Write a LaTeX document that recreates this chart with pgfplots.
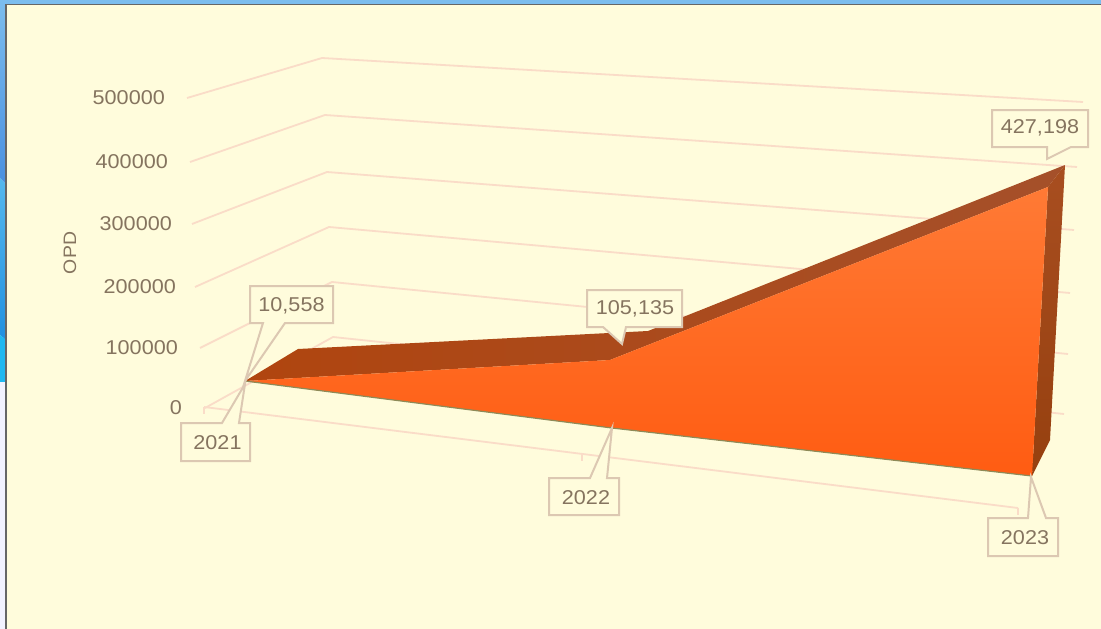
\documentclass[border=0pt]{standalone}
\usepackage{pgfplots}
\pgfplotsset{compat=1.18}
\usepackage{fontspec}
\setmainfont[FakeStretch=1.08]{Liberation Sans}
\definecolor{bgc}{HTML}{FFFCDC}
\definecolor{gridc}{HTML}{FADCC8}
\definecolor{boxc}{HTML}{DCC8B2}
\definecolor{txt}{HTML}{85745F}
\definecolor{band}{HTML}{B0450F}
\definecolor{banda}{HTML}{A5502A}
\definecolor{stripa}{HTML}{7CBDEE}
\definecolor{stripb}{HTML}{4A90E0}
\definecolor{stripc}{HTML}{55B8EE}
\definecolor{stripd}{HTML}{2090E0}
\definecolor{stripe}{HTML}{20B8F0}
\definecolor{sidea}{HTML}{A84E20}
\definecolor{sideb}{HTML}{96400F}
\definecolor{facea}{HTML}{FF7A35}
\definecolor{faceb}{HTML}{FF5C12}
\begin{document}
\begin{tikzpicture}[every node/.style={font=\fontsize{20}{24}\selectfont,text=txt,inner sep=0pt}]
\begin{axis}[
  scale only axis, width=1101pt, height=629pt,
  xmin=0, xmax=1101, ymin=0, ymax=629, y dir=reverse,
  axis lines=none, clip=true,
  gl/.style={draw=gridc,line width=1.8pt,line join=round,no markers},
  callout/.style={draw=boxc,fill=bgc,line width=2pt,line join=miter,no markers}
]
% window and page background
\addplot[draw=none,fill=bgc] coordinates {(0,0)(1101,0)(1101,629)(0,629)} -- cycle;
\addplot[draw=none,fill=stripa] coordinates {(0,0)(1101,0)(1101,4)(0,4)} -- cycle;
\addplot[draw=none,top color=stripa,bottom color=stripb] coordinates {(0,0)(6,0)(6,184)(0,178)} -- cycle;
\addplot[draw=none,top color=stripc,bottom color=stripd] coordinates {(0,178)(6,184)(6,340)(0,335)} -- cycle;
\addplot[draw=none,fill=stripe] coordinates {(0,335)(6,340)(6,382)(0,382)} -- cycle;
\addplot[draw=none,fill=white!95!blue] coordinates {(0,382)(6,382)(6,629)(0,629)} -- cycle;
\addplot[draw=black!60,line width=1.4pt,no markers] coordinates {(6,629)(6,4.5)(1101,4.5)};
% gridlines: 500000, 400000, 300000, 200000, 100000, 0
\addplot[gl] coordinates {(187,98)(322,58)(1083,102)};
\addplot[gl] coordinates {(190,162)(325,115)(1077,167)};
\addplot[gl] coordinates {(192,224)(327,172)(1074,230)};
\addplot[gl] coordinates {(195,287)(329,227)(1070,293)};
\addplot[gl] coordinates {(200,348)(332,282)(1068,354)};
\addplot[gl] coordinates {(205,408)(333,337)(1064,414)};
% floor edge and ticks
\addplot[gl] coordinates {(204,407)(1018,508)};
\addplot[gl,line width=1.3pt] coordinates {(204,407)(204,414)};
\addplot[gl,line width=1.3pt] coordinates {(582,454)(582,461)};
\addplot[gl,line width=1.3pt] coordinates {(1018,508)(1018,515)};
% area: top band, right side, front face
\addplot[draw=none,left color=band,right color=banda] coordinates {(245,381)(298,349)(648,331)(1065,165)(1048,187)(610,360)} -- cycle;
\addplot[draw=none,top color=sidea,bottom color=sideb] coordinates {(1048,187)(1065,165)(1050,440)(1032,476)} -- cycle;
\addplot[draw=none,top color=facea,bottom color=faceb] coordinates {(245,381)(610,360)(1048,187)(1032,476)(612,428)} -- cycle;
\addplot[draw=black!45!olive!70!white,line width=1.2pt,no markers] coordinates {(245,381)(612,428)(1032,476)};
% callouts: 2021 10,558
\addplot[callout] coordinates {(250,286)(333,286)(333,323)(285,323)(245,381)(263,323)(250,323)} -- cycle;
\addplot[callout] coordinates {(181,423)(222,423)(245,384)(239,423)(250,423)(250,461)(181,461)} -- cycle;
% 2022 105,135
\addplot[callout] coordinates {(587,290)(682,290)(682,327)(626,327)(622,344)(603,327)(587,327)} -- cycle;
\addplot[callout] coordinates {(549,478)(590,478)(612,428)(607,478)(619,478)(619,515)(549,515)} -- cycle;
% 2023 427,198
\addplot[callout] coordinates {(992,110)(1088,110)(1088,147)(1071,147)(1047,159)(1047,147)(992,147)} -- cycle;
\addplot[callout] coordinates {(988,518)(1028,518)(1031,477)(1046,518)(1058,518)(1058,556)(988,556)} -- cycle;
% value labels
\node at (axis cs:291.5,306) {10,558};
\node at (axis cs:635,309) {105,135};
\node at (axis cs:1040,128) {427,198};
\node at (axis cs:217.5,443) {2021};
\node at (axis cs:586,498) {2022};
\node at (axis cs:1025,538) {2023};
% value axis
\node[anchor=east] at (axis cs:165,98) {500000};
\node[anchor=east] at (axis cs:168,162) {400000};
\node[anchor=east] at (axis cs:172,224) {300000};
\node[anchor=east] at (axis cs:176,287) {200000};
\node[anchor=east] at (axis cs:178,348) {100000};
\node[anchor=east] at (axis cs:182,408) {0};
\node[rotate=90,font=\fontsize{18}{22}\selectfont] at (axis cs:70,253) {OPD};
\end{axis}
\end{tikzpicture}
\end{document}
